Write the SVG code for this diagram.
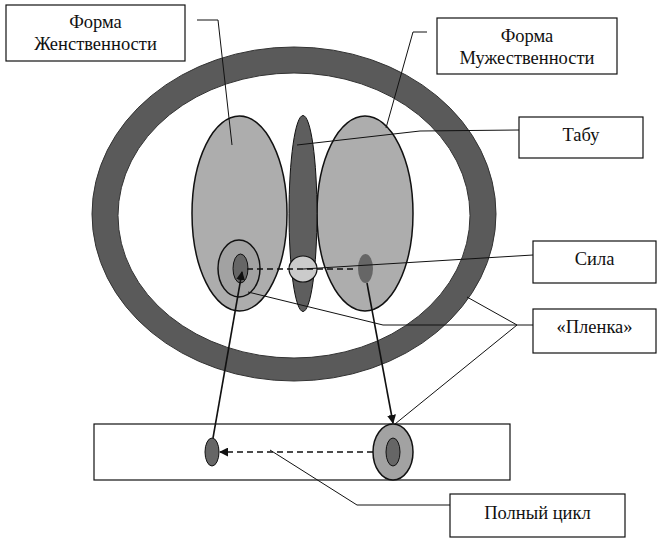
<svg xmlns="http://www.w3.org/2000/svg" width="657" height="545" viewBox="0 0 657 545">
<defs>
<style>
.lbl{fill:#fff;stroke:#111;stroke-width:1.2}
.t{font-family:"Liberation Serif","Times New Roman",serif;font-size:18.5px;fill:#111;text-anchor:middle}
.lead{fill:none;stroke:#111;stroke-width:1}
.arr{fill:none;stroke:#111;stroke-width:1.6}
.dash{fill:none;stroke:#111;stroke-width:1.6;stroke-dasharray:6 4}
.light{fill:#adadad;stroke:#111;stroke-width:1.5}
.dark{fill:#5e5e5e;stroke:#111;stroke-width:1}
</style>
<marker id="ah" viewBox="0 0 10 10" refX="9" refY="5" markerWidth="9" markerHeight="9" markerUnits="userSpaceOnUse" orient="auto">
<path d="M0,0 L10,5 L0,10 z" fill="#111"/>
</marker>
</defs>
<rect width="657" height="545" fill="#fff"/>

<g id="film-ring">
<ellipse cx="294" cy="214" rx="202" ry="167" fill="#5a5a5a" stroke="#333" stroke-width="1"/>
<ellipse cx="294" cy="215.5" rx="176" ry="142.5" fill="#fff" stroke="#333" stroke-width="1"/>
</g>

<g id="feminine-form">
<ellipse class="light" cx="239.5" cy="213.5" rx="47.5" ry="97.5"/>
</g>
<g id="masculine-form">
<ellipse class="light" cx="365" cy="213.5" rx="48" ry="97.5"/>
</g>
<g id="taboo">
<ellipse class="dark" cx="303" cy="213.5" rx="14" ry="98"/>
</g>
<g id="left-force">
<ellipse cx="239" cy="268.5" rx="21" ry="28.5" fill="#a2a2a2" stroke="#111" stroke-width="1.5"/>
<ellipse cx="240.5" cy="268.5" rx="7.5" ry="14.5" fill="#666" stroke="#111" stroke-width="1"/>
</g>
<g id="right-force">
<ellipse cx="365.5" cy="268.5" rx="7.5" ry="14.5" fill="#666"/>
</g>
<g id="center-circle">
<ellipse cx="303" cy="269" rx="14" ry="13" fill="#cbcbcb" stroke="#111" stroke-width="1.2"/>
</g>

<g id="cycle-band">
<rect x="94" y="424" width="416" height="56" fill="#fff" stroke="#111" stroke-width="1.2"/>
<ellipse cx="212" cy="452" rx="7" ry="14" fill="#666" stroke="#111" stroke-width="1"/>
<ellipse cx="393" cy="452" rx="20" ry="28" fill="#a2a2a2" stroke="#111" stroke-width="1.5"/>
<ellipse cx="393" cy="452" rx="7" ry="14" fill="#666" stroke="#111" stroke-width="1"/>
</g>

<g id="label-feminine">
<rect class="lbl" x="6" y="5" width="179" height="56"/>
<text class="t" x="95.5" y="28">Форма</text>
<text class="t" x="95.5" y="50">Женственности</text>
</g>
<g id="label-masculine">
<rect class="lbl" x="437" y="18" width="180" height="56"/>
<text class="t" x="527" y="42">Форма</text>
<text class="t" x="527" y="64">Мужественности</text>
</g>
<g id="label-taboo">
<rect class="lbl" x="519" y="117" width="124" height="41"/>
<text class="t" x="581" y="141">Табу</text>
</g>
<g id="label-force">
<rect class="lbl" x="533" y="241" width="123" height="42"/>
<text class="t" x="594.5" y="265">Сила</text>
</g>
<g id="label-film">
<rect class="lbl" x="533" y="309" width="123" height="44"/>
<text class="t" x="594.5" y="333">«Пленка»</text>
</g>
<g id="label-cycle">
<rect class="lbl" x="450" y="494" width="175" height="43"/>
<text class="t" x="537.5" y="519">Полный цикл</text>
</g>

<g id="connectors">
<polyline class="lead" points="197,20 218,20 232,145"/>
<polyline class="lead" points="427,32 413,32 386,128"/>
<polyline class="lead" points="519,130 420,131 297,145"/>
<line class="lead" x1="533" y1="255" x2="303" y2="269"/>
<polyline class="lead" points="533,325 517,325 383,325 248,292"/>
<line class="lead" x1="517" y1="325" x2="467" y2="297"/>
<line class="lead" x1="517" y1="325" x2="395" y2="424"/>
<polyline class="lead" points="450,505 357,505 270,450"/>
<line class="dash" x1="247" y1="269" x2="354" y2="269"/>
<line class="arr" x1="213" y1="438" x2="242" y2="272" marker-end="url(#ah)"/>
<line class="arr" x1="367" y1="283" x2="393" y2="423" marker-end="url(#ah)"/>
<line class="dash" x1="373" y1="452" x2="220" y2="452" marker-end="url(#ah)"/>
</g>
</svg>
